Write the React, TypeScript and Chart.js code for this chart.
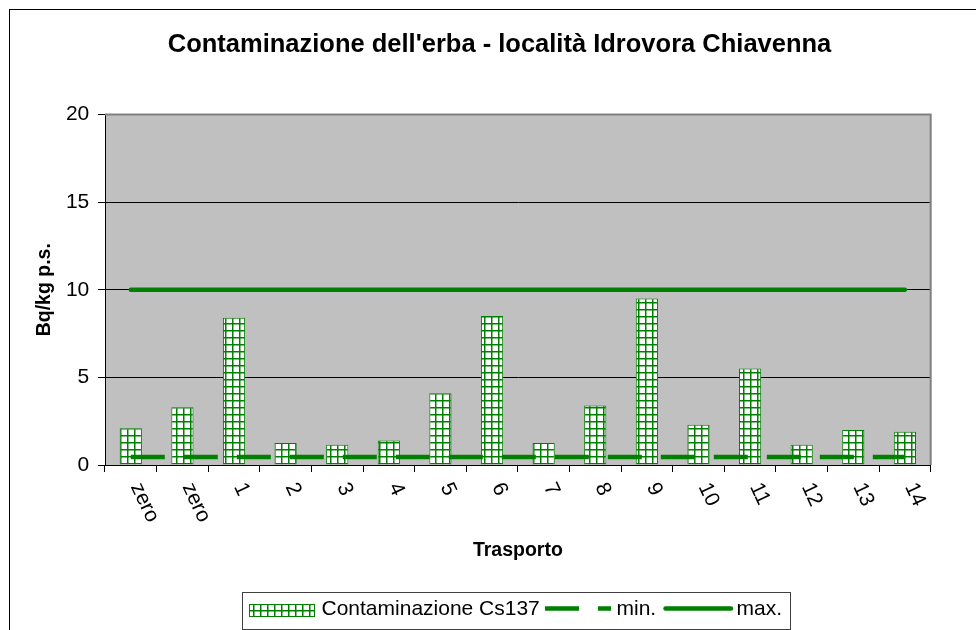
import React, { useEffect, useRef } from "react";
import { Chart, registerables } from "chart.js";

Chart.register(...registerables);

// ---- data ----
const categories = ["zero", "zero", "1", "2", "3", "4", "5", "6", "7", "8", "9", "10", "11", "12", "13", "14"];
const contaminationValues = [2.1, 3.3, 8.4, 1.25, 1.15, 1.4, 4.1, 8.5, 1.25, 3.4, 9.5, 2.3, 5.5, 1.15, 2.0, 1.9];
const minValues = [0.45, 0.45, 0.45, 0.45, 0.45, 0.45, 0.45, 0.45, 0.45, 0.45, 0.45, 0.45, 0.45, 0.45, 0.45, 0.45];
const maxValues = [10, 10, 10, 10, 10, 10, 10, 10, 10, 10, 10, 10, 10, 10, 10, 10];
const yTickMin = 0;
const yTickMax = 20;
const yTickStep = 5;

const seriesLabels = ["Contaminazione Cs137", "min.", "max."];
const chartTitle = "Contaminazione dell'erba - località Idrovora Chiavenna";
const xTitle = "Trasporto";
const yTitle = "Bq/kg p.s.";

// ---- styles ----
const GREEN = "#008000";
const FONT = "'Liberation Sans', Arial, Helvetica, sans-serif";
const CANVAS_W = 990;
const CANVAS_H = 650;
const LABEL_ANGLE = (65 * Math.PI) / 180;
const DASH = [34, 19];
const TICK_SIZE = 21;
const AXIS_TITLE_SIZE = 19.5;
const TITLE_SIZE = 25.5;

function makePattern(ctx: CanvasRenderingContext2D): CanvasPattern | string {
  const c = document.createElement("canvas");
  c.width = 7;
  c.height = 7;
  const g = c.getContext("2d");
  if (!g) return "#ffffff";
  g.fillStyle = "#ffffff";
  g.fillRect(0, 0, 7, 7);
  g.fillStyle = "rgba(0,128,0,0.5)";
  g.fillRect(0, 1, 7, 1);
  g.fillRect(1, 0, 1, 7);
  g.fillStyle = GREEN;
  g.fillRect(0, 0, 7, 1);
  g.fillRect(0, 0, 1, 7);
  return ctx.createPattern(c, "repeat") || "#ffffff";
}

export default function App() {
  const canvasRef = useRef<HTMLCanvasElement | null>(null);

  useEffect(() => {
    const canvas = canvasRef.current;
    if (!canvas) return;
    const ctx0 = canvas.getContext("2d");
    if (!ctx0) return;
    const pattern = makePattern(ctx0);

    const backgroundPlugin = {
      id: "bgPlugin",
      beforeDraw(chart: any) {
        const { ctx, chartArea } = chart;
        ctx.save();
        ctx.fillStyle = "#ffffff";
        ctx.fillRect(0, 0, chart.width, chart.height);
        ctx.strokeStyle = "#000000";
        ctx.lineWidth = 1;
        ctx.strokeRect(1.5, 1.5, chart.width - 3, chart.height - 3);
        ctx.fillStyle = "#c0c0c0";
        ctx.fillRect(chartArea.left, chartArea.top, chartArea.right - chartArea.left, chartArea.bottom - chartArea.top);
        // chart title
        ctx.font = `bold ${TITLE_SIZE}px ${FONT}`;
        ctx.fillStyle = "#000000";
        ctx.textAlign = "center";
        ctx.textBaseline = "middle";
        ctx.fillText(chartTitle, 491.5, 37);
        ctx.restore();
      },
      beforeDatasetsDraw(chart: any) {
        const { ctx, chartArea } = chart;
        ctx.save();
        ctx.strokeStyle = "#808080";
        ctx.lineWidth = 2;
        ctx.beginPath();
        ctx.moveTo(chartArea.left, chartArea.top);
        ctx.lineTo(chartArea.right, chartArea.top);
        ctx.lineTo(chartArea.right, chartArea.bottom);
        ctx.stroke();
        ctx.restore();
      },
      afterDraw(chart: any) {
        const { ctx } = chart;
        const xs = chart.scales.x;
        // rotated category labels
        ctx.save();
        ctx.font = `${TICK_SIZE}px ${FONT}`;
        ctx.fillStyle = "#000000";
        ctx.textAlign = "left";
        ctx.textBaseline = "middle";
        categories.forEach((lab, i) => {
          const x = xs.getPixelForValue(i);
          ctx.save();
          ctx.translate(x + 5, xs.top + 19);
          ctx.rotate(LABEL_ANGLE);
          ctx.fillText(lab, 0, 0);
          ctx.restore();
        });
        ctx.restore();

        // legend
        ctx.save();
        const boxL = 234.5, boxT = 584.5, boxR = 782.5, boxB = 621.5;
        ctx.fillStyle = "#ffffff";
        ctx.fillRect(boxL, boxT, boxR - boxL, boxB - boxT);
        ctx.strokeStyle = "#404040";
        ctx.lineWidth = 1;
        ctx.strokeRect(boxL, boxT, boxR - boxL, boxB - boxT);
        const cy = 600.5;
        // bar swatch
        ctx.fillStyle = pattern as any;
        ctx.fillRect(241.5, 596.5, 65, 12);
        ctx.strokeStyle = GREEN;
        ctx.strokeRect(241.5, 596.5, 65, 12);
        ctx.font = `${TICK_SIZE}px ${FONT}`;
        ctx.fillStyle = "#000000";
        ctx.textAlign = "left";
        ctx.textBaseline = "middle";
        ctx.fillText(seriesLabels[0], 313.5, cy + 1);
        // dashed swatch
        ctx.strokeStyle = GREEN;
        ctx.lineWidth = 4.5;
        ctx.setLineDash(DASH);
        ctx.lineCap = "butt";
        ctx.beginPath();
        ctx.moveTo(537, cy);
        ctx.lineTo(603, cy);
        ctx.stroke();
        ctx.setLineDash([]);
        ctx.fillText(seriesLabels[1], 608.5, cy + 1);
        // solid swatch
        ctx.lineCap = "round";
        ctx.beginPath();
        ctx.moveTo(657.5, cy);
        ctx.lineTo(723, cy);
        ctx.stroke();
        ctx.fillText(seriesLabels[2], 728.5, cy + 1);
        ctx.restore();
      },
    };

    const chart = new Chart(canvas, {
      type: "bar",
      data: {
        labels: categories,
        datasets: [
          {
            type: "bar",
            label: seriesLabels[0],
            data: contaminationValues,
            backgroundColor: pattern as any,
            borderColor: GREEN,
            borderWidth: 1,
            barPercentage: 0.43,
            categoryPercentage: 1,
            order: 2,
          },
          {
            type: "line",
            label: seriesLabels[1],
            data: minValues,
            borderColor: GREEN,
            borderWidth: 4.5,
            borderDash: DASH,
            borderCapStyle: "butt",
            pointRadius: 0,
            fill: false,
            tension: 0,
            order: 1,
          },
          {
            type: "line",
            label: seriesLabels[2],
            data: maxValues,
            borderColor: GREEN,
            borderWidth: 4.5,
            borderCapStyle: "round",
            pointRadius: 0,
            fill: false,
            tension: 0,
            order: 0,
          },
        ] as any,
      },
      options: {
        responsive: false,
        animation: false,
        events: [],
        layout: { padding: { left: 0, right: 67.3, top: 106.5, bottom: 93 } },
        plugins: {
          legend: { display: false },
          tooltip: { enabled: false },
          title: { display: false },
        },
        scales: {
          x: {
            type: "category",
            offset: true,
            grid: {
              display: true,
              drawOnChartArea: false,
              drawTicks: true,
              tickLength: 7,
              color: "#000000",
              offset: true,
            },
            border: { display: true, color: "#000000", width: 1 },
            ticks: { display: false },
            title: {
              display: true,
              text: xTitle,
              color: "#000000",
              font: { family: FONT, size: AXIS_TITLE_SIZE, weight: "bold" },
              padding: { top: 0, bottom: 2.3 },
            },
            afterFit: (s: any) => {
              s.height = 100;
            },
          },
          y: {
            min: yTickMin,
            max: yTickMax,
            ticks: {
              stepSize: yTickStep,
              color: "#000000",
              font: { family: FONT, size: TICK_SIZE },
              padding: 8.7,
            },
            grid: {
              color: "#000000",
              lineWidth: 1,
              drawTicks: true,
              tickLength: 7,
            },
            border: { display: true, color: "#000000", width: 1 },
            title: {
              display: true,
              text: yTitle,
              color: "#000000",
              font: { family: FONT, size: AXIS_TITLE_SIZE, weight: "bold" },
              padding: { top: 25.3, bottom: 0 },
            },
            afterFit: (s: any) => {
              s.width = 97;
            },
          },
        },
      } as any,
      plugins: [backgroundPlugin],
    });

    return () => {
      chart.destroy();
    };
  }, []);

  return (
    <div style={{ position: "fixed", left: 0, top: 0, width: 976, height: 630, overflow: "hidden", background: "#ffffff" }}>
      <canvas
        ref={canvasRef}
        width={CANVAS_W}
        height={CANVAS_H}
        style={{ position: "absolute", left: 8, top: 8, width: CANVAS_W, height: CANVAS_H }}
      />
    </div>
  );
}
